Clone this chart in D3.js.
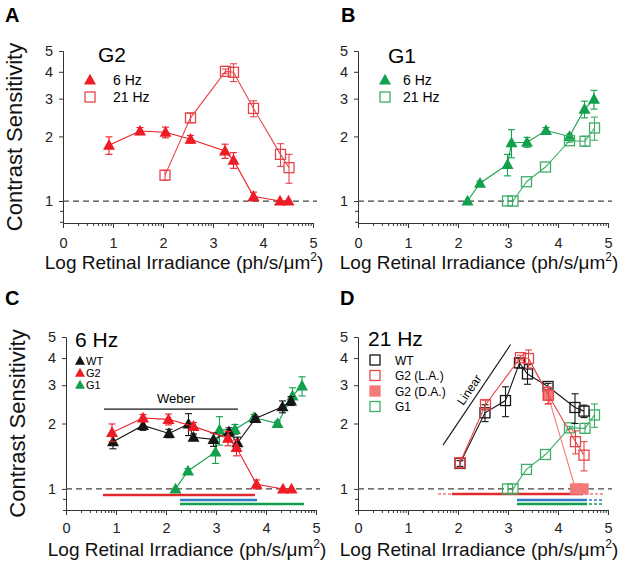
<!DOCTYPE html>
<html><head><meta charset="utf-8">
<script src="https://cdn.jsdelivr.net/npm/d3@7"></script>
<style>body{margin:0;background:#fff}text{font-family:"Liberation Sans",Arial,sans-serif}</style>
</head><body><svg id="c" width="625" height="563"></svg>
<script>
// ---------- data ----------
const xTicks = [0, 1, 2, 3, 4, 5];
const yTicks = [1, 2, 3, 4, 5];
const yMinorTicks = [0.8, 0.9];

// G2, 6 Hz
const g2_6_x   = [0.92, 1.54, 2.05, 2.55, 3.24, 3.41, 3.81, 4.34, 4.51];
const g2_6_y   = [1.82, 2.12, 2.09, 1.94, 1.71, 1.55, 1.05, 1.0, 1.0];
const g2_6_err = [0.17, 0.08, 0.12, 0.08, 0.13, 0.13, 0.05, 0.0, 0.0];
// G2, 21 Hz (light adapted)
const g2_21_x   = [2.04, 2.55, 3.25, 3.41, 3.81, 4.35, 4.52];
const g2_21_y   = [1.32, 2.44, 4.02, 3.98, 2.70, 1.65, 1.43];
const g2_21_err = [0.07, 0.12, 0.10, 0.38, 0.23, 0.20, 0.22];
// G2, 21 Hz (dark adapted)
const g2da_x   = [3.80, 4.35, 4.50];
const g2da_y   = [2.70, 1.0, 1.0];
const g2da_err = [0.25, 0.0, 0.0];
// G1, 6 Hz
const g1_6_x   = [2.19, 2.44, 2.99, 3.07, 3.38, 3.76, 4.23, 4.53, 4.72];
const g1_6_y   = [1.0, 1.21, 1.48, 1.87, 1.88, 2.13, 2.0, 2.68, 2.98];
const g1_6_err = [0.0, 0.03, 0.17, 0.28, 0.10, 0.07, 0.05, 0.24, 0.30];
// G1, 21 Hz
const g1_21_x   = [2.99, 3.10, 3.37, 3.75, 4.23, 4.54, 4.73];
const g1_21_y   = [1.0, 1.0, 1.23, 1.44, 1.91, 1.90, 2.19];
const g1_21_err = [0.0, 0.0, 0.0, 0.0, 0.03, 0.10, 0.27];
// WT, 6 Hz
const wt_6_x   = [0.94, 1.54, 2.06, 2.45, 2.55, 2.95, 3.26, 3.43, 3.79, 4.33, 4.50];
const wt_6_y   = [1.65, 1.96, 1.80, 1.99, 1.73, 1.69, 1.83, 1.63, 2.11, 2.39, 2.54];
const wt_6_err = [0.12, 0.10, 0.08, 0.23, 0.06, 0.12, 0.08, 0.10, 0.05, 0.15, 0.12];
// WT, 21 Hz
const wt_21_x   = [2.04, 2.54, 2.95, 3.23, 3.39, 3.80, 4.34, 4.52];
const wt_21_y   = [1.31, 2.24, 2.55, 3.80, 3.38, 2.96, 2.37, 2.28];
const wt_21_err = [0.04, 0.20, 0.40, 0.20, 0.35, 0.10, 0.37, 0.15];

// range bars (log irradiance extents)
const barsC_names = ["G2", "WT", "G1"];
const barsC_start = [0.74, 2.28, 2.28];
const barsC_end   = [3.78, 3.82, 4.76];
const barsD_names = ["G2", "WT", "G1"];
const barsD_start = [1.88, 3.18, 3.18];
const barsD_end   = [4.50, 4.58, 4.58];
const barsD_dashLeft  = [1.60, null, null];
const barsD_dashRight = [4.94, 4.92, 4.92];

// annotation lines
const weber_x = [0.76, 3.44];
const weber_y = [2.33, 2.33];
const linear_x = [1.70, 3.05];
const linear_y = [1.59, 4.61];

// ---------- styles ----------
const RED = "#ee1c24", RED_L = "#e6454a", GREEN = "#12a04c", GREEN_L = "#3cae66",
      BLACK = "#151515", PINK = "#f47a7a", BLUE = "#2f7cc4", BAR_RED = "#e0282d";

const svg = d3.select("#c");

function mkPanel(o) {
  const x = d3.scaleLinear().domain([0, 5]).range([o.x0, o.x0 + 250]);
  const y = d3.scaleLog().domain([o.yMin, 5]).range([o.yBot, o.yTop]);
  const g = svg.append("g");
  const xMinor = [];
  for (let i = 0; i < 5; i++) for (let k = 2; k <= 9; k++) xMinor.push(i + Math.log10(k));
  const ax = g.append("g").attr("transform", `translate(0,${o.yBot})`);
  ax.call(d3.axisBottom(x).tickValues(xMinor).tickSize(3).tickFormat("").tickSizeOuter(0));
  ax.append("g").call(d3.axisBottom(x).tickValues(xTicks).tickSize(5).tickPadding(o.pad).tickSizeOuter(0).tickFormat(d3.format("d")));
  const ay = g.append("g").attr("transform", `translate(${o.x0},0)`);
  ay.call(d3.axisLeft(y).tickValues(yMinorTicks).tickSize(3).tickFormat("").tickSizeOuter(0));
  ay.append("g").call(d3.axisLeft(y).tickValues(yTicks).tickSize(4).tickPadding(6).tickSizeOuter(0).tickFormat(d3.format("d")));
  g.selectAll(".domain").attr("stroke", "#333");
  g.selectAll(".tick line").attr("stroke", "#333");
  g.selectAll(".tick text").attr("font-size", 14.5).attr("fill", "#222").attr("font-family", '"Liberation Sans",Arial,sans-serif');
  // dashed line at 1
  g.append("line").attr("x1", x(0)).attr("x2", x(5) + 4).attr("y1", y(1)).attr("y2", y(1))
    .attr("stroke", "#444").attr("stroke-width", 1.2).attr("stroke-dasharray", "6,4");
  // labels
  g.append("text").attr("x", o.lx).attr("y", o.ly).attr("font-size", 20).attr("font-weight", "bold").text(o.letter);
  if (o.ytitle)
    g.append("text").attr("transform", `translate(${o.x0 - 41},${(o.yBot + o.yTop) / 2}) rotate(-90)`)
      .attr("text-anchor", "middle").attr("font-size", 22).attr("fill", "#111").text("Contrast Sensitivity");
  const t = g.append("text").attr("x", o.x0 + 121).attr("y", o.tb).attr("text-anchor", "middle")
    .attr("font-size", 19).attr("fill", "#111");
  t.append("tspan").text("Log Retinal Irradiance (ph/s/\u03BCm");
  t.append("tspan").attr("font-size", 12).attr("dy", -8).text("2");
  t.append("tspan").attr("dy", 8).text(")");
  return {x, y, g};
}

function tri(g, cx, cy, color, w) {
  w = w || 12; const h = w * 0.9;
  g.append("path").attr("d", `M${cx},${cy - h * 0.58}L${cx + w / 2},${cy + h * 0.42}L${cx - w / 2},${cy + h * 0.42}Z`)
    .attr("fill", color);
}
function sq(g, cx, cy, color, filled, s) {
  s = s || 10;
  g.append("rect").attr("x", cx - s / 2).attr("y", cy - s / 2).attr("width", s).attr("height", s)
    .attr("fill", filled ? color : "none").attr("stroke", color).attr("stroke-width", 1.3);
}

function series(P, xs, ys, es, color, marker, opts) {
  opts = opts || {};
  const {x, y, g} = P;
  const gs = g.append("g");
  const lx = opts.lineX || xs, ly = opts.lineY || ys;
  gs.append("path").datum(lx.map((d, i) => [d, ly[i]]))
    .attr("d", d3.line().x(d => x(d[0])).y(d => y(d[1])))
    .attr("fill", "none").attr("stroke", opts.lineColor || color).attr("stroke-width", 1.1);
  xs.forEach((d, i) => {
    const e = es[i];
    if (e > 0) {
      const cx = x(d), t = y(ys[i] + e), b = y(Math.max(ys[i] - e, 0.5));
      gs.append("line").attr("x1", cx).attr("x2", cx).attr("y1", t).attr("y2", b).attr("stroke", color).attr("stroke-width", 1.1);
      [t, b].forEach(v => gs.append("line").attr("x1", cx - 3.5).attr("x2", cx + 3.5).attr("y1", v).attr("y2", v).attr("stroke", color).attr("stroke-width", 1.1));
    }
  });
  xs.forEach((d, i) => {
    if (marker === "tri") tri(gs, x(d), y(ys[i]), color, opts.size);
    else sq(gs, x(d), y(ys[i]), color, opts.filled, opts.size);
  });
}

// ---------- Panel A ----------
const A = mkPanel({x0: 63, yTop: 51, yBot: 223, yMin: 0.79, pad: 10, letter: "A", lx: 5, ly: 22, tb: 269, ytitle: true});
series(A, g2_6_x, g2_6_y, g2_6_err, RED, "tri");
series(A, g2_21_x, g2_21_y, g2_21_err, RED_L, "sq", {size: 10});
A.g.append("text").attr("x", 98).attr("y", 62).attr("font-size", 21).text("G2");
tri(A.g, 90, 80, RED, 12); sq(A.g, 90, 97, RED_L, false, 10);
A.g.append("text").attr("x", 113).attr("y", 85).attr("font-size", 14).text("6 Hz");
A.g.append("text").attr("x", 113).attr("y", 102).attr("font-size", 14).text("21 Hz");

// ---------- Panel B ----------
const B = mkPanel({x0: 358, yTop: 51, yBot: 223, yMin: 0.79, pad: 10, letter: "B", lx: 341, ly: 22, tb: 269, ytitle: false});
series(B, g1_6_x, g1_6_y, g1_6_err, GREEN, "tri");
series(B, g1_21_x, g1_21_y, g1_21_err, GREEN_L, "sq", {size: 10});
B.g.append("text").attr("x", 388).attr("y", 63).attr("font-size", 21).text("G1");
tri(B.g, 385, 80, GREEN, 12); sq(B.g, 385, 97, GREEN_L, false, 10);
B.g.append("text").attr("x", 403).attr("y", 85).attr("font-size", 14).text("6 Hz");
B.g.append("text").attr("x", 403).attr("y", 102).attr("font-size", 14).text("21 Hz");

// ---------- Panel C ----------
const C = mkPanel({x0: 66, yTop: 337, yBot: 510, yMin: 0.8, pad: 8, letter: "C", lx: 5, ly: 305, tb: 556, ytitle: true});
const barColorsC = [BAR_RED, BLUE, GREEN];
const barOffs = [6, 11, 15];
barsC_names.forEach((n, i) => {
  C.g.append("line").attr("x1", C.x(barsC_start[i])).attr("x2", C.x(barsC_end[i]))
    .attr("y1", C.y(1) + barOffs[i]).attr("y2", C.y(1) + barOffs[i]).attr("stroke", barColorsC[i]).attr("stroke-width", 2.4);
});
C.g.append("path").datum(weber_x.map((d, i) => [d, weber_y[i]]))
  .attr("d", d3.line().x(d => C.x(d[0])).y(d => C.y(d[1]))).attr("stroke", BLACK).attr("stroke-width", 1.1);
C.g.append("text").attr("x", C.x(2.2)).attr("y", C.y(2.33) - 6).attr("text-anchor", "middle").attr("font-size", 13).text("Weber");
series(C, g1_6_x, g1_6_y, g1_6_err, GREEN, "tri");
series(C, wt_6_x, wt_6_y, wt_6_err, BLACK, "tri");
series(C, g2_6_x, g2_6_y, g2_6_err, RED, "tri");
C.g.append("text").attr("x", 75).attr("y", 347).attr("font-size", 21).text("6 Hz");
[["WT", BLACK], ["G2", RED], ["G1", GREEN]].forEach((d, i) => {
  tri(C.g, 80, 361 + i * 12, d[1], 10);
  C.g.append("text").attr("x", 86).attr("y", 365 + i * 12).attr("font-size", 11).text(d[0]);
});

// ---------- Panel D ----------
const D = mkPanel({x0: 358, yTop: 337, yBot: 510, yMin: 0.8, pad: 8, letter: "D", lx: 340, ly: 305, tb: 556, ytitle: false});
const barColorsD = [BAR_RED, BLUE, GREEN];
const dashColorsD = [PINK, BLUE, GREEN];
barsD_names.forEach((n, i) => {
  const yy = D.y(1) + barOffs[i] - (i === 0 ? 1 : 0);
  D.g.append("line").attr("x1", D.x(barsD_start[i])).attr("x2", D.x(barsD_end[i]))
    .attr("y1", yy).attr("y2", yy).attr("stroke", barColorsD[i]).attr("stroke-width", 2.4);
  if (barsD_dashLeft[i] !== null)
    D.g.append("line").attr("x1", D.x(barsD_dashLeft[i])).attr("x2", D.x(barsD_start[i]))
      .attr("y1", yy).attr("y2", yy).attr("stroke", dashColorsD[i]).attr("stroke-width", 1.6).attr("stroke-dasharray", "3,2");
  D.g.append("line").attr("x1", D.x(barsD_end[i]) + 2).attr("x2", D.x(barsD_dashRight[i]))
    .attr("y1", yy).attr("y2", yy).attr("stroke", dashColorsD[i]).attr("stroke-width", 1.6).attr("stroke-dasharray", "3,2");
});
// Linear slope line
const lp = linear_x.map((d, i) => [D.x(d), D.y(linear_y[i])]);
D.g.append("line").attr("x1", lp[0][0]).attr("y1", lp[0][1]).attr("x2", lp[1][0]).attr("y2", lp[1][1]).attr("stroke", BLACK).attr("stroke-width", 1.1);
const ang = Math.atan2(lp[1][1] - lp[0][1], lp[1][0] - lp[0][0]) * 180 / Math.PI;
D.g.append("text").attr("transform", `translate(${(lp[0][0] + lp[1][0]) / 2},${(lp[0][1] + lp[1][1]) / 2}) rotate(${ang})`)
  .attr("y", -5).attr("text-anchor", "middle").attr("font-size", 12).text("Linear");
series(D, g1_21_x, g1_21_y, g1_21_err, GREEN_L, "sq", {size: 10});
series(D, wt_21_x, wt_21_y, wt_21_err, BLACK, "sq", {size: 10});
series(D, g2da_x, g2da_y, g2da_err, PINK, "sq", {filled: true, size: 10,
  lineX: [g2_21_x[3]].concat(g2da_x), lineY: [g2_21_y[3]].concat(g2da_y)});
series(D, g2_21_x, g2_21_y, g2_21_err, RED_L, "sq", {size: 10});
D.g.append("text").attr("x", 368).attr("y", 346).attr("font-size", 21).text("21 Hz");
[["WT", BLACK, false], ["G2 (L.A.)", RED_L, false], ["G2 (D.A.)", PINK, true], ["G1", GREEN_L, false]].forEach((d, i) => {
  sq(D.g, 375, 360 + i * 15.5, d[1], d[2], 10);
  D.g.append("text").attr("x", 395).attr("y", 364.5 + i * 15.5).attr("font-size", 12).text(d[0]);
});
</script></body></html>
